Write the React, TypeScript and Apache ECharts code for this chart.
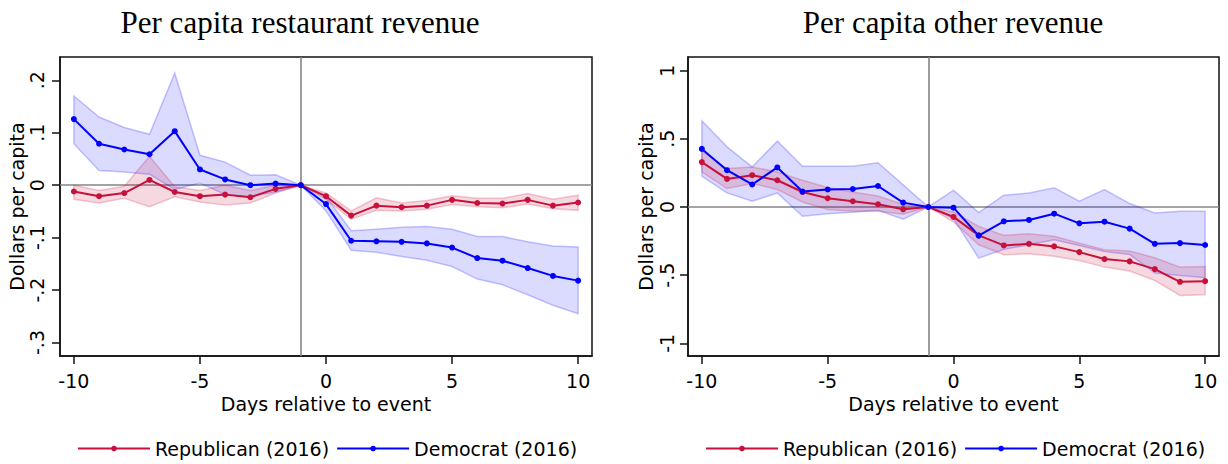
import React, { useEffect, useRef } from 'react';
import * as echarts from 'echarts';

// ---------- data ----------
const days = [-10, -9, -8, -7, -6, -5, -4, -3, -2, -1, 0, 1, 2, 3, 4, 5, 6, 7, 8, 9, 10];

// Panel 1: per capita restaurant revenue
const repRest = [-0.012, -0.021, -0.015, 0.010, -0.013, -0.021, -0.018, -0.023, -0.007, 0, -0.021, -0.058, -0.039, -0.042, -0.039, -0.028, -0.034, -0.035, -0.028, -0.039, -0.033];
const repRestLo = [-0.027, -0.034, -0.025, -0.041, -0.022, -0.032, -0.038, -0.034, -0.015, 0, -0.027, -0.065, -0.048, -0.049, -0.046, -0.037, -0.041, -0.043, -0.036, -0.045, -0.048];
const repRestHi = [0.000, -0.010, -0.002, 0.055, -0.003, -0.010, 0.000, -0.010, 0.000, 0, -0.015, -0.049, -0.024, -0.034, -0.029, -0.020, -0.025, -0.025, -0.016, -0.027, -0.019];
const demRest = [0.126, 0.079, 0.068, 0.059, 0.103, 0.030, 0.011, 0.000, 0.003, 0, -0.036, -0.106, -0.107, -0.108, -0.111, -0.119, -0.139, -0.144, -0.158, -0.173, -0.182];
const demRestLo = [0.079, 0.028, 0.025, 0.021, -0.008, 0.004, -0.018, -0.022, -0.013, 0, -0.049, -0.124, -0.128, -0.136, -0.143, -0.155, -0.179, -0.190, -0.209, -0.229, -0.245];
const demRestHi = [0.170, 0.130, 0.110, 0.097, 0.214, 0.057, 0.044, 0.019, 0.020, 0, -0.022, -0.087, -0.084, -0.080, -0.079, -0.084, -0.098, -0.098, -0.108, -0.116, -0.118];

// Panel 2: per capita other revenue
const repOther = [0.329, 0.206, 0.233, 0.196, 0.110, 0.064, 0.042, 0.020, -0.017, 0, -0.073, -0.208, -0.282, -0.270, -0.289, -0.331, -0.382, -0.399, -0.456, -0.549, -0.544];
const repOtherLo = [0.257, 0.135, 0.172, 0.128, 0.037, -0.019, -0.032, -0.032, -0.054, 0, -0.110, -0.277, -0.350, -0.343, -0.362, -0.392, -0.441, -0.470, -0.539, -0.649, -0.644];
const repOtherHi = [0.410, 0.282, 0.294, 0.257, 0.196, 0.143, 0.110, 0.081, 0.018, 0, -0.037, -0.142, -0.208, -0.196, -0.215, -0.265, -0.313, -0.323, -0.372, -0.441, -0.436];
const demOther = [0.426, 0.270, 0.165, 0.290, 0.113, 0.128, 0.132, 0.154, 0.032, 0, -0.005, -0.210, -0.105, -0.095, -0.049, -0.120, -0.108, -0.159, -0.270, -0.265, -0.279];
const demOtherLo = [0.226, 0.103, 0.042, 0.103, -0.068, -0.049, -0.039, -0.024, -0.090, 0, -0.085, -0.375, -0.311, -0.277, -0.240, -0.282, -0.326, -0.348, -0.485, -0.502, -0.519];
const demOtherHi = [0.632, 0.441, 0.294, 0.483, 0.299, 0.299, 0.299, 0.324, 0.162, 0, 0.123, -0.041, 0.086, 0.103, 0.140, 0.042, 0.128, 0.025, -0.044, -0.032, -0.032];

// ticks and labels
const xTicks = [-10, -5, 0, 5, 10];
const leftYTicks = [-0.3, -0.2, -0.1, 0, 0.1, 0.2];
const rightYTicks = [-1, -0.5, 0, 0.5, 1];
const panelTitles = ['Per capita restaurant revenue', 'Per capita other revenue'];
const seriesNames = ['Republican (2016)', 'Democrat (2016)'];
const xAxisTitle = 'Days relative to event';
const yAxisTitle = 'Dollars per capita';
const eventDay = -1;

// ---------- styling ----------
const RED = '#c8103c';
const BLUE = '#0000ff';
const SANS = 'DejaVu Sans';
const SERIF = 'Liberation Serif';
const FS = 19;

const fmtY = (v: number) => {
  const r = Math.round(v * 100) / 100;
  if (r === 0) return '0';
  return String(r).replace('0.', '.');
};

function band(lo: number[], hi: number[], fill: string, stroke: string, idx: number) {
  return {
    type: 'custom',
    xAxisIndex: idx,
    yAxisIndex: idx,
    z: 2,
    silent: true,
    data: days.map((d, i) => [d, lo[i], hi[i]]),
    encode: { x: 0, y: [1, 2] },
    renderItem: (params: any, api: any) => {
      if (params.dataIndex !== 0) return { type: 'group', children: [] };
      const pts: number[][] = [];
      for (let i = 0; i < days.length; i++) pts.push(api.coord([days[i], hi[i]]));
      for (let i = days.length - 1; i >= 0; i--) pts.push(api.coord([days[i], lo[i]]));
      return {
        type: 'polygon',
        shape: { points: pts },
        style: { fill, stroke, lineWidth: 1.5 },
      };
    },
  };
}

function line(name: string, vals: number[], color: string, idx: number, withRef: boolean) {
  const s: any = {
    type: 'line',
    name,
    xAxisIndex: idx,
    yAxisIndex: idx,
    z: 3,
    data: days.map((d, i) => [d, vals[i]]),
    symbol: 'circle',
    symbolSize: 6,
    showSymbol: true,
    color,
    itemStyle: { color },
    lineStyle: { color, width: 2 },
    emphasis: { disabled: true },
    silent: true,
  };
  if (withRef) {
    s.markLine = {
      z: 1,
      silent: true,
      symbol: ['none', 'none'],
      label: { show: false },
      emphasis: { disabled: true },
      lineStyle: { color: '#858585', width: 1.6, type: 'solid' },
      data: [{ yAxis: 0 }, { xAxis: eventDay }],
    };
  }
  return s;
}

export default function App() {
  const ref = useRef<HTMLDivElement>(null);

  useEffect(() => {
    if (!ref.current) return;
    const chart = echarts.init(ref.current, undefined, { renderer: 'svg' });

    const grids = [
      { left: 60, top: 57, width: 532, height: 299 },
      { left: 688, top: 57, width: 531, height: 299 },
    ];
    const yCfg = [
      { min: -0.3257, max: 0.2444, ticks: leftYTicks, margin: 14, nameGap: 34 },
      { min: -1.093, max: 1.1, ticks: rightYTicks, margin: 12, nameGap: 33 },
    ];
    const titleX = [300, 953];
    const legendLeft = [77, 705];

    const option: any = {
      animation: false,
      backgroundColor: '#ffffff',
      textStyle: { fontFamily: SANS },
      grid: grids.map((g) => ({
        ...g,
        show: true,
        containLabel: false,
        outerBoundsMode: 'none',
        borderColor: '#111',
        borderWidth: 1.5,
        backgroundColor: 'transparent',
      })),
      xAxis: [0, 1].map((i) => ({
        type: 'value',
        gridIndex: i,
        min: -10.55,
        max: 10.55,
        name: xAxisTitle,
        nameLocation: 'middle',
        nameGap: 38,
        nameTextStyle: { fontFamily: SANS, fontSize: FS, color: '#000' },
        axisLine: { show: true, onZero: false, lineStyle: { color: '#111', width: 1.5 } },
        axisTick: { show: true, length: 8, customValues: xTicks, lineStyle: { color: '#111', width: 1.5 } },
        axisLabel: { customValues: xTicks, margin: 15, fontFamily: SANS, fontSize: FS, color: '#000' },
        splitLine: { show: false },
      })),
      yAxis: [0, 1].map((i) => ({
        type: 'value',
        gridIndex: i,
        min: yCfg[i].min,
        max: yCfg[i].max,
        name: yAxisTitle,
        nameLocation: 'middle',
        nameRotate: 90,
        nameGap: yCfg[i].nameGap,
        nameTextStyle: { fontFamily: SANS, fontSize: FS, color: '#000' },
        axisLine: { show: true, onZero: false, lineStyle: { color: '#111', width: 1.5 } },
        axisTick: { show: true, length: 8, customValues: yCfg[i].ticks, lineStyle: { color: '#111', width: 1.5 } },
        axisLabel: {
          customValues: yCfg[i].ticks,
          rotate: 90,
          margin: yCfg[i].margin,
          fontFamily: SANS,
          fontSize: FS,
          color: '#000',
          formatter: fmtY,
        },
        splitLine: { show: false },
      })),
      legend: [0, 1].map((i) => ({
        show: true,
        left: legendLeft[i],
        top: 439,
        orient: 'horizontal',
        padding: 0,
        itemWidth: 72,
        itemHeight: 7,
        itemGap: 7,
        selectedMode: false,
        data: seriesNames,
        textStyle: { fontFamily: SANS, fontSize: FS, color: '#000' },
      })),
      graphic: [0, 1].map((i) => ({
        type: 'text',
        x: titleX[i],
        y: 22,
        silent: true,
        style: {
          text: panelTitles[i],
          font: `31px "${SERIF}"`,
          fill: '#000',
          align: 'center',
          verticalAlign: 'middle',
          textAlign: 'center',
          textVerticalAlign: 'middle',
        },
      })),
      series: [
        band(demRestLo, demRestHi, 'rgba(0,0,255,0.14)', 'rgba(0,0,255,0.22)', 0),
        band(repRestLo, repRestHi, 'rgba(200,16,60,0.16)', 'rgba(200,16,60,0.22)', 0),
        line(seriesNames[0], repRest, RED, 0, true),
        line(seriesNames[1], demRest, BLUE, 0, false),
        band(demOtherLo, demOtherHi, 'rgba(0,0,255,0.14)', 'rgba(0,0,255,0.22)', 1),
        band(repOtherLo, repOtherHi, 'rgba(200,16,60,0.16)', 'rgba(200,16,60,0.22)', 1),
        line(seriesNames[0], repOther, RED, 1, true),
        line(seriesNames[1], demOther, BLUE, 1, false),
      ],
    };

    chart.setOption(option);
    return () => chart.dispose();
  }, []);

  return (
    <div
      ref={ref}
      style={{ position: 'absolute', left: 0, top: 0, width: 1228, height: 464, background: '#fff' }}
    />
  );
}
